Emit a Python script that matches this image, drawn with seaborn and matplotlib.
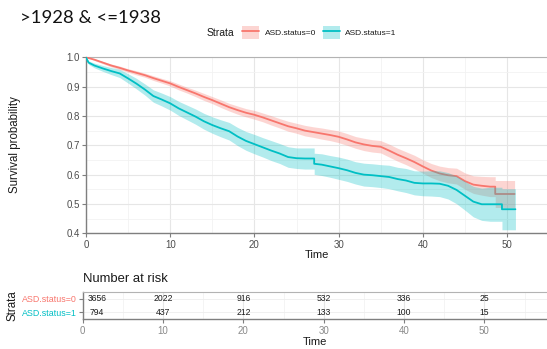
import numpy as np
import pandas as pd
import matplotlib
matplotlib.use("Agg")
import matplotlib.pyplot as plt
import seaborn as sns
from matplotlib.patches import Patch
from matplotlib.lines import Line2D
from matplotlib.ticker import MultipleLocator

# ---------------- data ----------------
title = ">1928 & <=1938"
strata = ["ASD.status=0", "ASD.status=1"]
colors = ["#F8766D", "#00BFC4"]

times0 = [0, 1, 2, 3, 4, 5, 6, 7, 8, 9, 10, 11, 12, 13, 14, 15, 16, 17, 18, 19,
          20, 21, 22, 23, 24, 25, 26, 27, 28, 29, 30, 31, 32, 33, 34, 35, 36, 37,
          38, 39, 40, 41, 42, 43, 44, 45, 46, 47, 48, 48.6, 48.6, 50.9]
surv0 = [1.0, 0.992, 0.982, 0.972, 0.964, 0.955, 0.947, 0.939, 0.929, 0.920,
         0.911, 0.899, 0.888, 0.877, 0.865, 0.854, 0.842, 0.830, 0.820, 0.811,
         0.804, 0.795, 0.785, 0.775, 0.765, 0.758, 0.750, 0.745, 0.740, 0.735,
         0.729, 0.720, 0.710, 0.703, 0.698, 0.695, 0.682, 0.668, 0.656, 0.643,
         0.628, 0.614, 0.604, 0.598, 0.595, 0.578, 0.566, 0.562, 0.559, 0.559,
         0.534, 0.534]
hw0 = [0.0, 0.003, 0.004, 0.005, 0.006, 0.006, 0.007, 0.007, 0.008, 0.008,
       0.009, 0.010, 0.010, 0.011, 0.012, 0.012, 0.013, 0.013, 0.014, 0.014,
       0.015, 0.015, 0.016, 0.016, 0.017, 0.017, 0.018, 0.018, 0.019, 0.019,
       0.020, 0.020, 0.020, 0.021, 0.021, 0.021, 0.022, 0.022, 0.022, 0.023,
       0.023, 0.024, 0.025, 0.026, 0.027, 0.028, 0.030, 0.032, 0.034, 0.034,
       0.046, 0.046]

times1 = [0, 0.3, 1, 2, 3, 4, 5, 6, 7, 8, 9, 10, 11, 12, 13, 14, 15, 16, 17, 18,
          19, 20, 21, 22, 23, 24, 25, 26, 27.1, 27.1, 28, 29, 30, 31, 32, 33, 34,
          35, 36, 37, 38, 39, 40, 41, 42, 43, 44, 45, 46, 47, 48, 49, 49.4, 49.4,
          51.0]
surv1 = [1.0, 0.982, 0.972, 0.962, 0.953, 0.945, 0.928, 0.910, 0.890, 0.868,
         0.856, 0.843, 0.826, 0.812, 0.798, 0.782, 0.769, 0.758, 0.748, 0.730,
         0.715, 0.704, 0.693, 0.682, 0.672, 0.660, 0.656, 0.655, 0.655, 0.637,
         0.634, 0.628, 0.622, 0.615, 0.606, 0.600, 0.598, 0.595, 0.592, 0.585,
         0.580, 0.572, 0.570, 0.570, 0.569, 0.562, 0.548, 0.528, 0.508, 0.499,
         0.499, 0.499, 0.499, 0.482, 0.482]
hw1 = [0.0, 0.006, 0.008, 0.010, 0.012, 0.014, 0.016, 0.018, 0.019, 0.021,
       0.022, 0.023, 0.024, 0.025, 0.026, 0.027, 0.028, 0.029, 0.030, 0.031,
       0.032, 0.033, 0.033, 0.034, 0.034, 0.035, 0.035, 0.036, 0.036, 0.036,
       0.037, 0.037, 0.038, 0.038, 0.038, 0.039, 0.039, 0.039, 0.040, 0.040,
       0.041, 0.041, 0.042, 0.043, 0.044, 0.045, 0.047, 0.049, 0.052, 0.055,
       0.058, 0.058, 0.058, 0.070, 0.070]

risk_times = [0, 10, 20, 30, 40, 50]
risk0 = [3656, 2022, 916, 532, 336, 25]
risk1 = [794, 437, 212, 133, 100, 15]

# ---------------- figure ----------------
sns.set_theme(style="white")
plt.rcParams["font.family"] = ["Liberation Sans", "DejaVu Sans"]

W, H = 547, 349
fig = plt.figure(figsize=(W / 100, H / 100), dpi=100)

def fx(px):
    return px / W

def fy(py):
    return 1 - py / H

grey_txt = "#4D4D4D"
axis_grey = "#7F7F7F"
dark = "#1A1A1A"

# main axes
ax = fig.add_axes([fx(86), fy(233.3), fx(547) - fx(86), fy(57.3) - fy(233.3)])
ax.set_xlim(0, 54.75)
ax.set_ylim(0.4, 1.0)
ax.xaxis.set_major_locator(MultipleLocator(10))
ax.xaxis.set_minor_locator(MultipleLocator(5))
ax.yaxis.set_major_locator(MultipleLocator(0.1))
ax.yaxis.set_minor_locator(MultipleLocator(0.05))
ax.grid(True, which="major", color="#E6E6E6", linewidth=0.8)
ax.grid(True, which="minor", color="#F2F2F2", linewidth=0.6)
ax.set_axisbelow(True)

groups = [(times0, surv0, hw0), (times1, surv1, hw1)]
for i, (t, s, hw) in enumerate(groups):
    s = np.array(s)
    hw = np.array(hw)
    df = pd.DataFrame({"time": t, "surv": s})
    ax.fill_between(t, s - hw, s + hw, color=colors[i],
                    alpha=0.3, linewidth=0, zorder=2 + 2 * i)
    sns.lineplot(data=df, x="time", y="surv", color=colors[i], estimator=None,
                 sort=False, linewidth=1.3, ax=ax, legend=False,
                 zorder=3 + 2 * i)

ax.set_xticks([0, 10, 20, 30, 40, 50])
ax.set_yticks([0.4, 0.5, 0.6, 0.7, 0.8, 0.9, 1.0])
ax.set_yticklabels(["0.4", "0.5", "0.6", "0.7", "0.8", "0.9", "1.0"])
ax.tick_params(axis="both", which="major", labelsize=7, colors=axis_grey,
               labelcolor=grey_txt, length=3, width=0.8, pad=1.5, left=True, bottom=True)
ax.tick_params(axis="both", which="minor", length=0)
ax.set_xlabel("Time", fontsize=8, color=dark, labelpad=0)
ax.set_ylabel("")
fig.text(fx(15), fy(145), "Survival probability", rotation=90, fontsize=8.3,
         color=dark, ha="center", va="center")
for side in ["left", "bottom"]:
    ax.spines[side].set_color(axis_grey)
    ax.spines[side].set_linewidth(1.0)
ax.spines["top"].set_color("#B3B3B3")
ax.spines["top"].set_linewidth(0.8)
ax.spines["right"].set_visible(False)

# title
fig.text(fx(20), fy(18), title, fontsize=13.3, color="#111111",
         ha="left", va="center", family=["Lato", "DejaVu Sans"])

# legend
fig.text(fx(207), fy(32.5), "Strata", fontsize=7.5, color=dark, ha="left", va="center")
handles = []
for c in colors:
    handles.append((Patch(facecolor=c, alpha=0.3, edgecolor="none"),
                    Line2D([], [], color=c, linewidth=1.3)))
fig.legend(handles, strata, ncol=2, loc="center left",
           bbox_to_anchor=(fx(242), fy(32.5)), frameon=False, fontsize=6,
           handlelength=2.0, handleheight=2.0, handletextpad=0.7,
           columnspacing=0.85, borderaxespad=0, borderpad=0,
           labelcolor=dark)

# risk table
ax2 = fig.add_axes([fx(82.7), fy(319.3), fx(547) - fx(82.7), fy(291.7) - fy(319.3)])
ax2.set_xlim(0, 57.8)
ax2.set_ylim(0.44, 2.56)
ax2.xaxis.set_major_locator(MultipleLocator(10))
ax2.xaxis.set_minor_locator(MultipleLocator(5))
ax2.grid(True, which="major", axis="x", color="#E6E6E6", linewidth=0.8)
ax2.grid(True, which="minor", axis="x", color="#F2F2F2", linewidth=0.6)
ax2.grid(True, which="major", axis="y", color="#EEEEEE", linewidth=0.6)
ax2.set_axisbelow(True)
for row, vals in [(2, risk0), (1, risk1)]:
    for t, v in zip(risk_times, vals):
        xt = t if t > 0 else 1.75
        ax2.text(xt, row, str(v), ha="center", va="center", fontsize=6.2, color=dark)
ax2.set_xticks([0, 10, 20, 30, 40, 50])
ax2.set_yticks([2, 1])
ax2.set_yticklabels(strata)
ax2.tick_params(axis="y", labelsize=6.4, length=3, width=0.8, colors=axis_grey, pad=1.5, left=True)
for lab, c in zip(ax2.get_yticklabels(), colors):
    lab.set_color(c)
ax2.tick_params(axis="x", which="major", labelsize=7, colors=axis_grey,
                labelcolor="#8A8A8A", length=3, width=0.8, pad=1.5, bottom=True)
ax2.tick_params(axis="x", which="minor", length=0)
ax2.set_xlabel("Time", fontsize=8, color=dark, labelpad=1)
ax2.set_ylabel("")
fig.text(fx(13), fy(305.5), "Strata", rotation=90, fontsize=8.3,
         color=dark, ha="center", va="center")
ax2.set_title("Number at risk", fontsize=9.4, color=dark, loc="left", pad=7)
for side in ["left", "bottom"]:
    ax2.spines[side].set_color(axis_grey)
    ax2.spines[side].set_linewidth(1.0)
ax2.spines["top"].set_color("#B3B3B3")
ax2.spines["top"].set_linewidth(0.8)
ax2.spines["right"].set_visible(False)

fig.savefig("out.png", dpi=100)
